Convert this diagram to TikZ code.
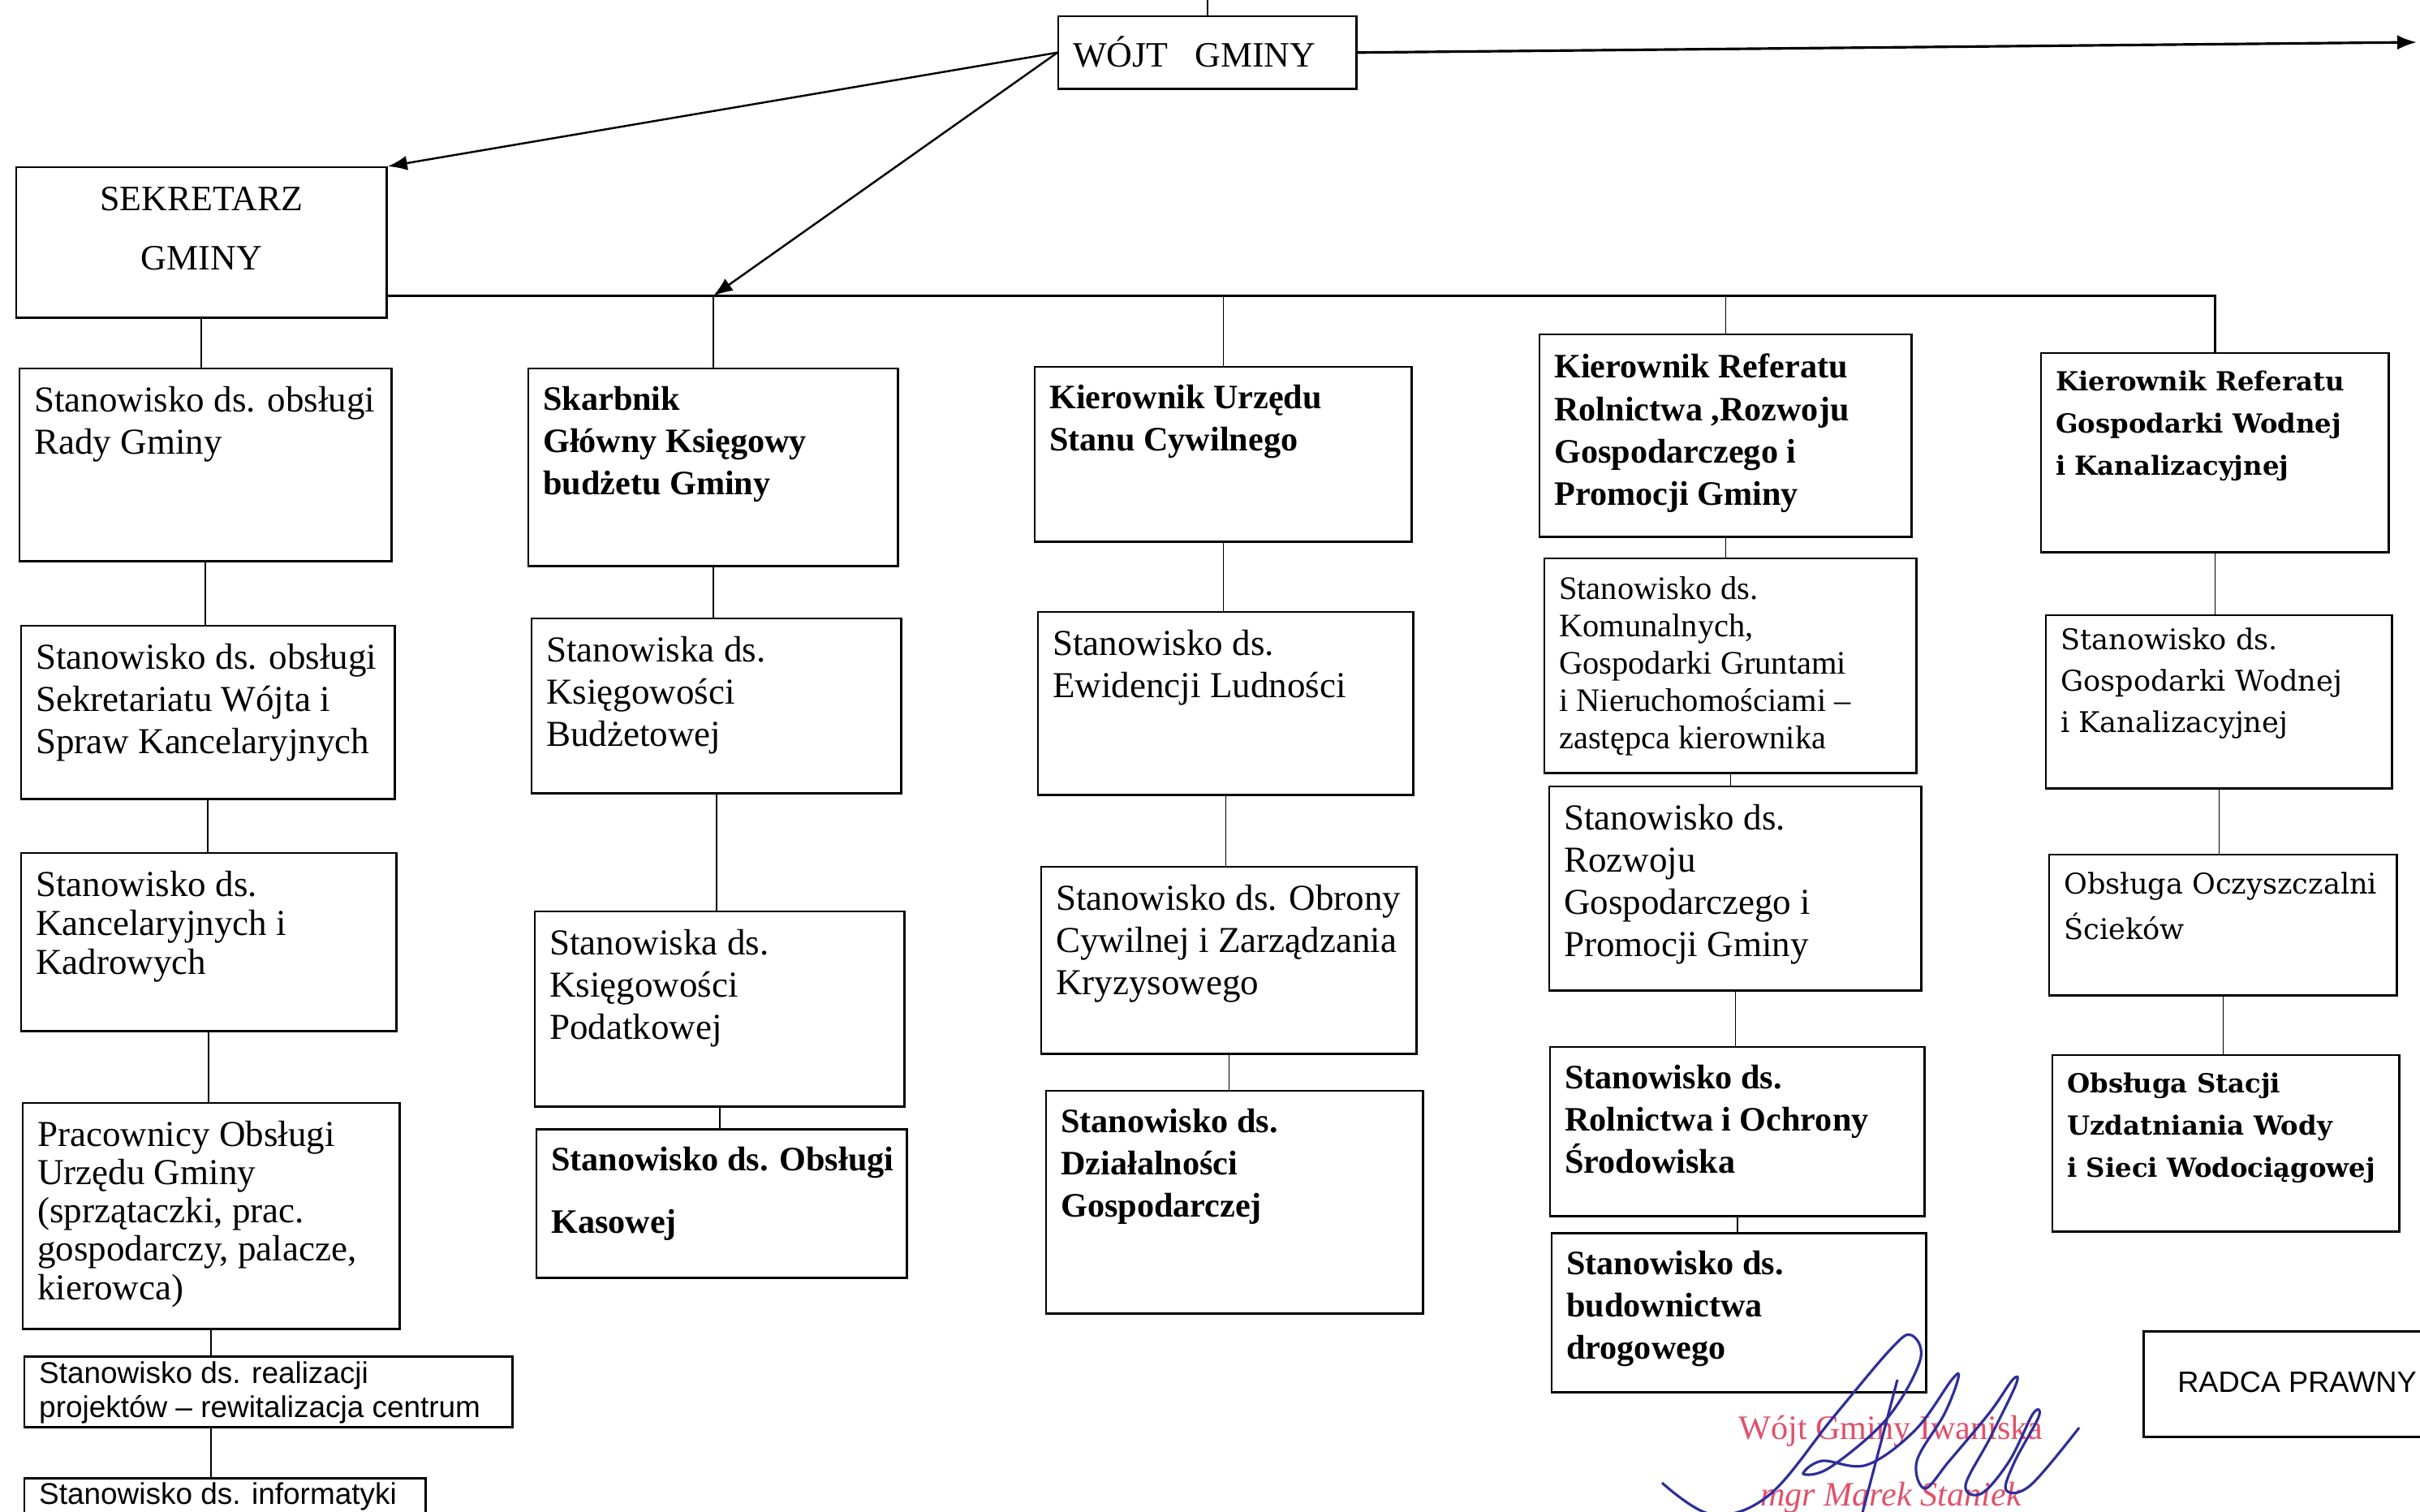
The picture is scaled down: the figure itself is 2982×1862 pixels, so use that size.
\documentclass[tikz,border=0pt]{standalone}
\usepackage{fontspec}
\setmainfont{Liberation Serif}
\setsansfont{Liberation Sans}
\newfontfamily\wodfont{DejaVu Serif}
\usepackage{xcolor}
\usepackage{tikz}
\usetikzlibrary{arrows.meta, positioning, calc}
\definecolor{stampred}{HTML}{E2506A}
\definecolor{inkblue}{HTML}{2E2E9A}
\tikzset{
  post/.style   = {draw, line width=0.7pt, anchor=north west, inner sep=0pt,
                   font=\fontsize{12.8}{14.8}\selectfont},
  postB/.style  = {post, font=\fontsize{12}{14.8}\selectfont\bfseries},
  postW/.style  = {post, font=\fontsize{10}{14.5}\selectfont\wodfont},
  postWB/.style = {post, font=\fontsize{9.2}{14.8}\selectfont\wodfont\bfseries},
  postS/.style  = {post, font=\fontsize{10.5}{12}\selectfont\sffamily},
  link/.style   = {line width=0.5pt},
  bus/.style    = {line width=0.9pt},
  arrow/.style  = {line width=0.7pt, -{Latex[length=2.4mm, width=1.8mm]}},
  stamp/.style  = {text=stampred, font=\fontsize{12}{14}\selectfont},
  sign/.style   = {inkblue, line width=0.9pt},
}
% box of given width and height, text from the top left
\newcommand{\cell}[4][0.22cm]{\parbox[t][#3][t]{#2}{\vspace*{#1}\raggedright\leftskip=0.18cm\relax #4}}

\begin{document}
\begin{tikzpicture}[x=0.01cm, y=-0.01cm]
  \useasboundingbox (0,0) rectangle (2982,1862);
  \clip (0,0) rectangle (2982,1862);

  %% Head
  \node[post, font=\fontsize{12.5}{14.8}\selectfont] (wojt) at (1303,19)
    {\cell[0.25cm]{3.67cm}{0.89cm}{WÓJT\ \ \ GMINY}};
  \node[post, font=\fontsize{12.5}{20.7}\selectfont] (sek) at (19,205)
    {\cell[0.24cm]{4.56cm}{1.85cm}{\centering SEKRETARZ\\GMINY}};

  %% Column 1
  \node[post] (c1a) at (23,453)  {\cell{4.58cm}{2.37cm}{Stanowisko ds. obsługi\\Rady Gminy}};
  \node[post] (c1b) at (25,770)  {\cell{4.60cm}{2.13cm}{Stanowisko ds. obsługi\\Sekretariatu Wójta i\\Spraw Kancelaryjnych}};
  \node[post, font=\fontsize{12.8}{13.6}\selectfont] (c1c) at (25,1050)
    {\cell{4.62cm}{2.19cm}{Stanowisko ds.\\Kancelaryjnych i\\Kadrowych}};
  \node[post, font=\fontsize{12.8}{13.4}\selectfont] (c1d) at (27,1358)
    {\cell{4.64cm}{2.78cm}{Pracownicy Obsługi\\Urzędu Gminy\\(sprzątaczki, prac.\\gospodarczy, palacze,\\kierowca)}};
  \node[postS] (c1e) at (29,1670) {\cell[0.06cm]{6.01cm}{0.87cm}{Stanowisko ds. realizacji\\projektów – rewitalizacja centrum}};
  \node[postS] (c1f) at (29,1820) {\cell[0.05cm]{4.94cm}{0.90cm}{Stanowisko ds. informatyki}};

  %% Column 2
  \node[postB] (c2a) at (650,453)  {\cell{4.55cm}{2.43cm}{Skarbnik\\Główny Księgowy\\budżetu Gminy}};
  \node[post]  (c2b) at (654,761)  {\cell{4.55cm}{2.15cm}{Stanowiska ds.\\Księgowości\\Budżetowej}};
  \node[post]  (c2c) at (658,1122) {\cell{4.55cm}{2.40cm}{Stanowiska ds.\\Księgowości\\Podatkowej}};
  \node[postB, font=\fontsize{12}{22}\selectfont\bfseries] (c2d) at (660,1390)
    {\cell{4.56cm}{1.83cm}{Stanowisko ds. Obsługi\\Kasowej}};

  %% Column 3
  \node[postB] (c3a) at (1274,451)  {\cell{4.64cm}{2.15cm}{Kierownik Urzędu\\Stanu Cywilnego}};
  \node[post]  (c3b) at (1278,753)  {\cell{4.62cm}{2.25cm}{Stanowisko ds.\\Ewidencji Ludności}};
  \node[post]  (c3c) at (1282,1067) {\cell{4.62cm}{2.30cm}{Stanowisko ds. Obrony\\Cywilnej i Zarządzania\\Kryzysowego}};
  \node[postB] (c3d) at (1288,1343) {\cell{4.64cm}{2.74cm}{Stanowisko ds.\\Działalności\\Gospodarczej}};

  %% Column 4
  \node[postB] (c4a) at (1896,411)  {\cell[0.24cm]{4.58cm}{2.49cm}{Kierownik Referatu\\Rolnictwa ,Rozwoju\\Gospodarczego i\\Promocji Gminy}};
  \node[post, font=\fontsize{11.5}{13.1}\selectfont] (c4b) at (1902,687)
    {\cell{4.58cm}{2.64cm}{Stanowisko ds.\\Komunalnych,\\Gospodarki Gruntami\\i Nieruchomościami –\\zastępca kierownika}};
  \node[post]  (c4c) at (1908,968)  {\cell{4.58cm}{2.51cm}{Stanowisko ds.\\Rozwoju\\Gospodarczego i\\Promocji Gminy}};
  \node[postB] (c4d) at (1909,1289) {\cell{4.61cm}{2.08cm}{Stanowisko ds.\\Rolnictwa i Ochrony\\Środowiska}};
  \node[postB] (c4e) at (1911,1518) {\cell{4.61cm}{1.96cm}{Stanowisko ds.\\budownictwa\\drogowego}};

  %% Column 5
  \node[postWB] (c5a) at (2514,434)  {\cell{4.28cm}{2.45cm}{Kierownik Referatu\\Gospodarki Wodnej\\i Kanalizacyjnej}};
  \node[postW]  (c5b) at (2520,757)  {\cell[0.16cm]{4.26cm}{2.13cm}{Stanowisko ds.\\Gospodarki Wodnej\\i Kanalizacyjnej}};
  \node[postW, font=\fontsize{10}{15.7}\selectfont\wodfont] (c5c) at (2524,1052)
    {\cell{4.28cm}{1.73cm}{Obsługa Oczyszczalni\\Ścieków}};
  \node[postWB] (c5d) at (2528,1299) {\cell{4.27cm}{2.17cm}{Obsługa Stacji\\Uzdatniania Wody\\i Sieci Wodociągowej}};

  %% Legal adviser
  \node[postS, font=\fontsize{10.3}{12}\selectfont\sffamily] (radca) at (2640,1639)
    {\cell[0.5cm]{3.6cm}{1.30cm}{\hspace*{0.24cm}RADCA PRAWNY}};

  %% Connectors
  \coordinate (busL)  at ($(sek.south east)+(0,-28)$);
  \coordinate (edgeR) at (2978,52);
  \draw[link] (wojt.north) -- (wojt.north |- 0,0);
  \draw[arrow] (wojt.west) -- (sek.north east);
  \draw[arrow] (wojt.west) -- (c2a.north |- busL);
  \draw[arrow, line width=0.9pt] (wojt.east) -- (edgeR);
  \draw[bus] (busL) -| (c5a.north);
  \foreach \c in {c2a, c3a, c4a}
    \draw[link] (\c.north) -- (\c.north |- busL);
  \draw[link] (sek.south) -- (sek.south |- c1a.north);
  \foreach \a/\b in {c1a/c1b, c1b/c1c, c1c/c1d, c2a/c2b, c2b/c2c, c2c/c2d,
                     c3a/c3b, c3b/c3c, c3c/c3d, c4a/c4b, c4b/c4c, c4c/c4d,
                     c4d/c4e, c5a/c5b, c5b/c5c, c5c/c5d}
    \draw[link] (\a.south) -- (\a.south |- \b.north);
  \draw[link] (c1d.south) -- (c1d.south |- c1e.north);
  \draw[link] (c1d.south |- c1e.south) -- (c1d.south |- c1f.north);

  %% Stamp and signature
  \node[stamp] (stampA) at (2330,1763) {Wójt Gminy Iwaniska};
  \node[stamp, font=\fontsize{12}{14}\selectfont\itshape] (stampB) at (2330,1845) {mgr Marek Staniek};
  \draw[sign] plot[smooth, tension=0.6] coordinates {(2048,1827) (2110,1866) (2180,1842)
    (2260,1745) (2330,1662) (2355,1645) (2366,1676) (2325,1748) (2255,1808) (2222,1816)
    (2245,1800) (2300,1805) (2360,1762) (2405,1700) (2413,1698) (2396,1742) (2362,1800)
    (2372,1834) (2402,1800) (2452,1740) (2480,1700) (2484,1706) (2452,1772) (2422,1830)
    (2442,1840) (2476,1800) (2505,1742) (2512,1746) (2482,1802) (2472,1836) (2502,1830)
    (2562,1759)};
  \draw[sign] (2338,1700) -- (2292,1875);

\end{tikzpicture}
\end{document}
